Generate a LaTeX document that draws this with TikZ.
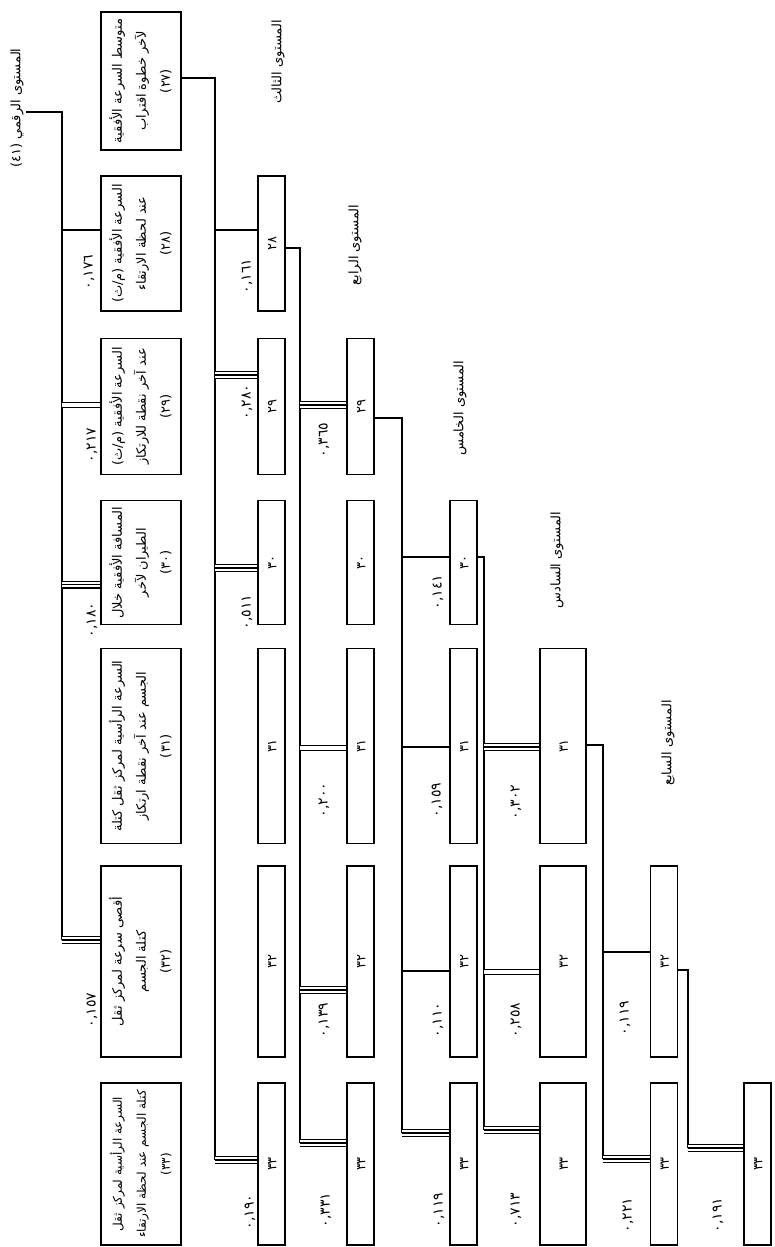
\documentclass[tikz,border=0pt]{standalone}
\usepackage{fontspec}
\usepackage{graphicx}
\usepackage{tikz}
\newfontfamily\arabicfont[Script=Arabic]{DejaVu Sans}
\TeXXeTstate=1
\newcommand{\rtl}[1]{\beginR #1\endR}
\newcommand{\vt}[1]{\rotatebox{90}{\begin{tabular}{@{}c@{}}#1\end{tabular}}}

\begin{document}
\begin{tikzpicture}[x=0.5pt,y=-0.5pt,line width=0.6pt,every node/.style={font=\arabicfont\fontsize{6.5}{12}\selectfont,inner sep=1pt},box/.style={draw,inner sep=0pt},big/.style={box,minimum width=40pt},cell/.style={box,minimum width=13.5pt},wide/.style={box,minimum width=23pt},r1/.style={minimum height=69pt},r2/.style={minimum height=67.5pt},r3/.style={minimum height=68pt},r4/.style={minimum height=62pt},r5/.style={minimum height=97.5pt},r6/.style={minimum height=95.5pt},r7/.style={minimum height=81pt},coef/.style={rotate=90,font=\arabicfont\fontsize{7}{8}\selectfont},lvl/.style={rotate=90},sig/.style={line width=4pt,postaction={draw=white,line width=2.8pt},postaction={draw=black,line width=0.6pt}},dbl/.style={double,double distance=1.8pt}]
\useasboundingbox (0,0) rectangle (775,1247);
% level labels
\node[lvl] (lv2) at (17,108) {\rtl{المستوى الرقمي (٤١)}};
\node[lvl] (lv3) at (278,62) {\rtl{المستوى الثالث}};
\node[lvl] (lv4) at (355,245) {\rtl{المستوى الرابع}};
\node[lvl] (lv5) at (460,408) {\rtl{المستوى الخامس}};
\node[lvl] (lv6) at (557,560) {\rtl{المستوى السادس}};
\node[lvl] (lv7) at (668,743) {\rtl{المستوى السابع}};
% first column
\node[big,r1] (b27) at (141,81) {\vt{\rtl{متوسط السرعة الأفقية}\\ \rtl{لآخر خطوة اقتراب}\\ (٢٧)}};
\node[big,r2] (b28) at (141,243.5) {\vt{\rtl{السرعة الأفقية (م/ث)}\\ \rtl{عند لحظة الارتقاء}\\ (٢٨)}};
\node[big,r3] (b29) at (141,406.5) {\vt{\rtl{السرعة الأفقية (م/ث)}\\ \rtl{عند آخر نقطة للارتكاز}\\ (٢٩)}};
\node[big,r4] (b30) at (141,562.5) {\vt{\rtl{المسافة الأفقية خلال}\\ \rtl{الطيران لآخر}\\ (٣٠)}};
\node[big,r5] (b31) at (141,746) {\vt{\rtl{السرعة الرأسية لمركز ثقل كتلة}\\ \rtl{الجسم عند آخر نقطة ارتكاز}\\ (٣١)}};
\node[big,r6] (b32) at (141,961.5) {\vt{\rtl{أقصى سرعة لمركز ثقل}\\ \rtl{كتلة الجسم}\\ (٣٢)}};
\node[big,r7,font=\arabicfont\fontsize{6}{12}\selectfont] (b33) at (141,1164) {\vt{\rtl{السرعة الرأسية لمركز ثقل}\\ \rtl{كتلة الجسم عند لحظة الارتقاء}\\ (٣٣)}};
% level 3
\node[cell,r2] (c28) at (271.5,243.5) {\vt{٢٨}};
\node[cell,r3] (c29) at (271.5,406.5) {\vt{٢٩}};
\node[cell,r4] (c30) at (271.5,562.5) {\vt{٣٠}};
\node[cell,r5] (c31) at (271.5,746) {\vt{٣١}};
\node[cell,r6] (c32) at (271.5,961.5) {\vt{٣٢}};
\node[cell,r7] (c33) at (271.5,1164) {\vt{٣٣}};
% level 4
\node[cell,r3] (d29) at (360.5,406.5) {\vt{٢٩}};
\node[cell,r4] (d30) at (360.5,562.5) {\vt{٣٠}};
\node[cell,r5] (d31) at (360.5,746) {\vt{٣١}};
\node[cell,r6] (d32) at (360.5,961.5) {\vt{٣٢}};
\node[cell,r7] (d33) at (360.5,1164) {\vt{٣٣}};
% level 5
\node[cell,r4] (e30) at (463.5,562.5) {\vt{٣٠}};
\node[cell,r5] (e31) at (463.5,746) {\vt{٣١}};
\node[cell,r6] (e32) at (463.5,961.5) {\vt{٣٢}};
\node[cell,r7] (e33) at (463.5,1164) {\vt{٣٣}};
% level 6
\node[wide,r5] (f31) at (563,746) {\vt{٣١}};
\node[wide,r6] (f32) at (563,961.5) {\vt{٣٢}};
\node[wide,r7] (f33) at (563,1164) {\vt{٣٣}};
% level 7
\node[cell,r6] (g32) at (664,961.5) {\vt{٣٢}};
\node[cell,r7] (g33) at (664,1164) {\vt{٣٣}};
% level 8
\node[cell,r7] (h33) at (757.5,1164) {\vt{٣٣}};
% trunks
\coordinate (t2) at (62,112);\coordinate (t2e) at (62,940);
\coordinate (t3) at (215,78);\coordinate (t3e) at (215,1160);
\coordinate (t4) at (300,248);\coordinate (t4e) at (300,1143);
\coordinate (t5) at (402,418);\coordinate (t5e) at (402,1133);
\coordinate (t6) at (484,557);\coordinate (t6e) at (484,1130);
\coordinate (t7) at (603,745);\coordinate (t7e) at (603,1159);
\coordinate (t8) at (688,970);\coordinate (t8e) at (688,1148);
\draw (lv2.south |- t2) -- (t2) -- (t2e);
\draw (b27.east |- t3) -- (t3) -- (t3e);
\draw (c28.east |- t4) -- (t4) -- (t4e);
\draw (d29.east |- t5) -- (t5) -- (t5e);
\draw (e30.east |- t6) -- (t6) -- (t6e);
\draw (f31.east |- t7) -- (t7) -- (t7e);
\draw (g32.east |- t8) -- (t8) -- (t8e);
% branches
\draw (b28.west) ++(0,-13.5) coordinate (p) -- (p -| t2);
\draw[dbl] (b29.west) ++(0,-1.5) coordinate (p) -- (p -| t2);
\draw[sig] (b30.west) ++(0,22) coordinate (p) -- (p -| t2);
\draw[sig] (b32.west) ++(0,-21.5) coordinate (p) -- (p -| t2);
\draw (c28.west) ++(0,-13.5) coordinate (p) -- (p -| t3);
\draw[sig] (c29.west) ++(0,-31.5) coordinate (p) -- (p -| t3);
\draw[sig] (c30.west) ++(0,5.5) coordinate (p) -- (p -| t3);
\draw[sig] (c33.west) ++(0,-4) coordinate (p) -- (p -| t3);
\draw[sig] (d29.west) ++(0,-1.5) coordinate (p) -- (p -| t4);
\draw[dbl] (d31.west) ++(0,2) coordinate (p) -- (p -| t4);
\draw[sig] (d32.west) ++(0,28.5) coordinate (p) -- (p -| t4);
\draw[sig] (d33.west) ++(0,-21) coordinate (p) -- (p -| t4);
\draw (e30.west) ++(0,-5.5) coordinate (p) -- (p -| t5);
\draw (e31.west) ++(0,1) coordinate (p) -- (p -| t5);
\draw (e32.west) ++(0,9.5) coordinate (p) -- (p -| t5);
\draw[sig] (e33.west) ++(0,-31) coordinate (p) -- (p -| t5);
\draw[sig] (f31.west) ++(0,1) coordinate (p) -- (p -| t6);
\draw[dbl] (f32.west) ++(0,10.5) coordinate (p) -- (p -| t6);
\draw[sig] (f33.west) ++(0,-34) coordinate (p) -- (p -| t6);
\draw (g32.west) ++(0,-9.5) coordinate (p) -- (p -| t7);
\draw[sig] (g33.west) ++(0,-5) coordinate (p) -- (p -| t7);
\draw[sig] (h33.west) ++(0,-16) coordinate (p) -- (p -| t8);
% coefficients
\node[coef] (kb28) at (89,272) {٠,١٧٦};
\node[coef] (kb29) at (92,445) {٠,٢١٧};
\node[coef] (kb30) at (92,620) {٠,١٨٠};
\node[coef] (kb32) at (92,1010) {٠,١٥٧};
\node[coef] (kc28) at (247,276) {٠,١٦١};
\node[coef] (kc29) at (247,402) {٠,٢٨٠};
\node[coef] (kc30) at (247,612) {٠,٥١١};
\node[coef] (kc33) at (250,1212) {٠,١٩٠};
\node[coef] (kd29) at (324,440) {٠,٣٦٥};
\node[coef] (kd31) at (324,800) {٠,٢٠٠};
\node[coef] (kd32) at (324,1020) {٠,١٣٩};
\node[coef] (kd33) at (326,1210) {٠,٣٣١};
\node[coef] (ke30) at (438,592) {٠,١٤١};
\node[coef] (ke31) at (437,800) {٠,١٥٩};
\node[coef] (ke32) at (438,1020) {٠,١١٠};
\node[coef] (ke33) at (439,1210) {٠,١١٩};
\node[coef] (kf31) at (516,802) {٠,٣٠٢};
\node[coef] (kf32) at (516,1020) {٠,٢٥٨};
\node[coef] (kf33) at (516,1210) {٠,٧١٣};
\node[coef] (kg32) at (625,1018) {٠,١١٩};
\node[coef] (kg33) at (628,1215) {٠,٢٢١};
\node[coef] (kh33) at (718,1215) {٠,١٩١};
\end{tikzpicture}
\end{document}
